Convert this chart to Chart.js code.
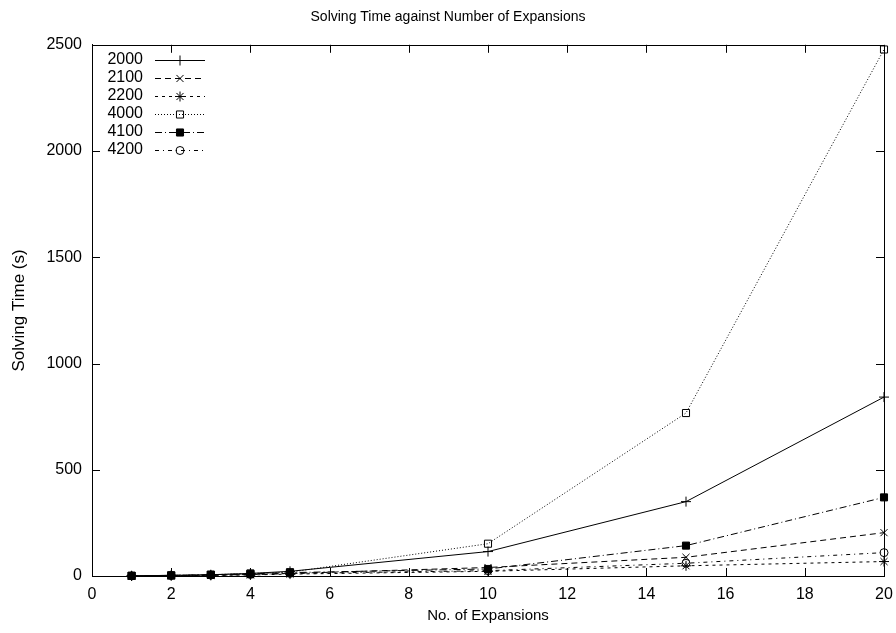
<!DOCTYPE html>
<html>
<head>
<meta charset="utf-8">
<script src="https://cdn.jsdelivr.net/npm/chart.js@4/dist/chart.umd.min.js"></script>
<style>
  html, body { margin: 0; padding: 0; background: #fff; }
  #wrap { width: 896px; height: 633px; }
</style>
</head>
<body>
<div id="wrap"><canvas id="c" width="896" height="633"></canvas></div>
<script>
// Number of expansions (x values)
const expansions = [1, 2, 3, 4, 5, 10, 15, 20];

// Solving time in seconds for each problem size
const seriesNames = ['2000', '2100', '2200', '4000', '4100', '4200'];
const time2000 = [1, 3, 6, 12, 22, 115, 350, 842];
const time2100 = [0.5, 2, 4, 7, 12, 40, 88, 204];
const time2200 = [0.3, 1.5, 3, 5, 9, 22, 48, 68];
const time4000 = [1, 3, 6, 12, 18, 152, 767, 2478];
const time4100 = [1, 3, 6, 10, 16, 33, 143, 370];
const time4200 = [0.5, 2, 4, 7, 12, 25, 60, 110];

const xTicks = [0, 2, 4, 6, 8, 10, 12, 14, 16, 18, 20];
const yTicks = [0, 500, 1000, 1500, 2000, 2500];

const FONT = "'Liberation Sans', Arial, Helvetica, sans-serif";

function pts(values) {
  return expansions.map((x, i) => ({ x: x, y: values[i] }));
}

function series(label, values, dash, pointStyle, radius, fill) {
  return {
    label: label,
    data: pts(values),
    borderColor: '#000',
    borderWidth: 1,
    borderDash: dash,
    pointStyle: pointStyle,
    pointRadius: radius,
    pointHoverRadius: radius,
    pointBorderColor: '#000',
    pointBorderWidth: 1,
    pointBackgroundColor: fill,
    tension: 0,
    fill: false,
    clip: false
  };
}

const datasets = [
  series(seriesNames[0], time2000, [], 'cross', 5, 'rgba(0,0,0,0)'),
  series(seriesNames[1], time2100, [6, 4], 'crossRot', 5, 'rgba(0,0,0,0)'),
  series(seriesNames[2], time2200, [3, 4], 'star', 5, 'rgba(0,0,0,0)'),
  series(seriesNames[3], time4000, [1, 2], 'rect', 5, 'rgba(0,0,0,0)'),
  series(seriesNames[4], time4100, [7, 3, 1, 3], 'rect', 5, '#000'),
  series(seriesNames[5], time4200, [4, 4, 1, 4], 'circle', 4, 'rgba(0,0,0,0)')
];

// Frame with inward tick marks on all four sides
const framePlugin = {
  id: 'frame',
  beforeDatasetsDraw(chart) {
    const { ctx, chartArea: a, scales } = chart;
    const len = 8;
    ctx.save();
    ctx.strokeStyle = '#000';
    ctx.lineWidth = 1;
    ctx.setLineDash([]);
    ctx.beginPath();
    scales.x.ticks.forEach(t => {
      const px = Math.round(scales.x.getPixelForValue(t.value)) + 0.5;
      ctx.moveTo(px, a.bottom); ctx.lineTo(px, a.bottom - len);
      ctx.moveTo(px, a.top); ctx.lineTo(px, a.top + len);
    });
    scales.y.ticks.forEach(t => {
      const py = Math.round(scales.y.getPixelForValue(t.value)) + 0.5;
      ctx.moveTo(a.left, py); ctx.lineTo(a.left + len, py);
      ctx.moveTo(a.right, py); ctx.lineTo(a.right - len, py);
    });
    ctx.stroke();
    ctx.strokeRect(Math.round(a.left) + 0.5, Math.round(a.top) + 0.5,
                   Math.round(a.right - a.left), Math.round(a.bottom - a.top));
    ctx.restore();
  }
};

// Key in the upper left: label, then a line sample with its marker
const keyPlugin = {
  id: 'key',
  afterDatasetsDraw(chart) {
    const { ctx, chartArea: a } = chart;
    ctx.save();
    ctx.font = '16px ' + FONT;
    ctx.textAlign = 'right';
    ctx.textBaseline = 'middle';
    chart.data.datasets.forEach((ds, i) => {
      const y = a.top + 15 + i * 18;
      const tx = a.left + 51;
      const x0 = a.left + 63, x1 = a.left + 113, xm = (x0 + x1) / 2;
      ctx.fillStyle = '#000';
      ctx.fillText(ds.label, tx, y);
      ctx.strokeStyle = '#000';
      ctx.lineWidth = 1;
      ctx.setLineDash(ds.borderDash || []);
      ctx.beginPath();
      ctx.moveTo(x0, Math.round(y) + 0.5);
      ctx.lineTo(x1, Math.round(y) + 0.5);
      ctx.stroke();
      ctx.setLineDash([]);
      ctx.fillStyle = ds.pointBackgroundColor;
      ctx.strokeStyle = '#000';
      Chart.helpers.drawPoint(ctx, {
        pointStyle: ds.pointStyle,
        radius: ds.pointRadius,
        rotation: 0,
        borderWidth: 1
      }, xm, Math.round(y) + 0.5);
    });
    ctx.restore();
  }
};

new Chart(document.getElementById('c'), {
  type: 'line',
  data: { datasets: datasets },
  options: {
    responsive: false,
    animation: false,
    devicePixelRatio: 1,
    layout: { padding: { left: 0, right: 0, top: 0, bottom: 0 } },
    plugins: {
      legend: { display: false },
      tooltip: { enabled: false },
      title: {
        display: true,
        text: 'Solving Time against Number of Expansions',
        color: '#000',
        font: { family: FONT, size: 14, weight: 'normal' },
        padding: { top: 9, bottom: 19 }
      }
    },
    scales: {
      x: {
        type: 'linear',
        min: 0,
        max: 20,
        afterBuildTicks(scale) { scale.ticks = xTicks.map(v => ({ value: v })); },
        afterFit(scale) { scale.height = 57; scale.paddingRight = 12; },
        grid: { display: true, drawOnChartArea: false, drawTicks: false },
        border: { display: true, color: '#000' },
        ticks: { color: '#000', padding: 9, font: { family: FONT, size: 16 },
                 callback: v => String(v) },
        title: {
          display: true,
          text: 'No. of Expansions',
          color: '#000',
          font: { family: FONT, size: 15 },
          padding: { top: 0, bottom: 8 }
        }
      },
      y: {
        type: 'linear',
        min: 0,
        max: 2500,
        afterBuildTicks(scale) { scale.ticks = yTicks.map(v => ({ value: v })); },
        afterFit(scale) { scale.width = 92; },
        grid: { display: true, drawOnChartArea: false, drawTicks: false },
        border: { display: true, color: '#000' },
        ticks: { color: '#000', padding: 10, font: { family: FONT, size: 16 },
                 callback: v => String(v) },
        title: {
          display: true,
          text: 'Solving Time (s)',
          color: '#000',
          font: { family: FONT, size: 17 },
          padding: { top: 9, bottom: 0 }
        }
      }
    }
  },
  plugins: [framePlugin, keyPlugin]
});
</script>
</body>
</html>
